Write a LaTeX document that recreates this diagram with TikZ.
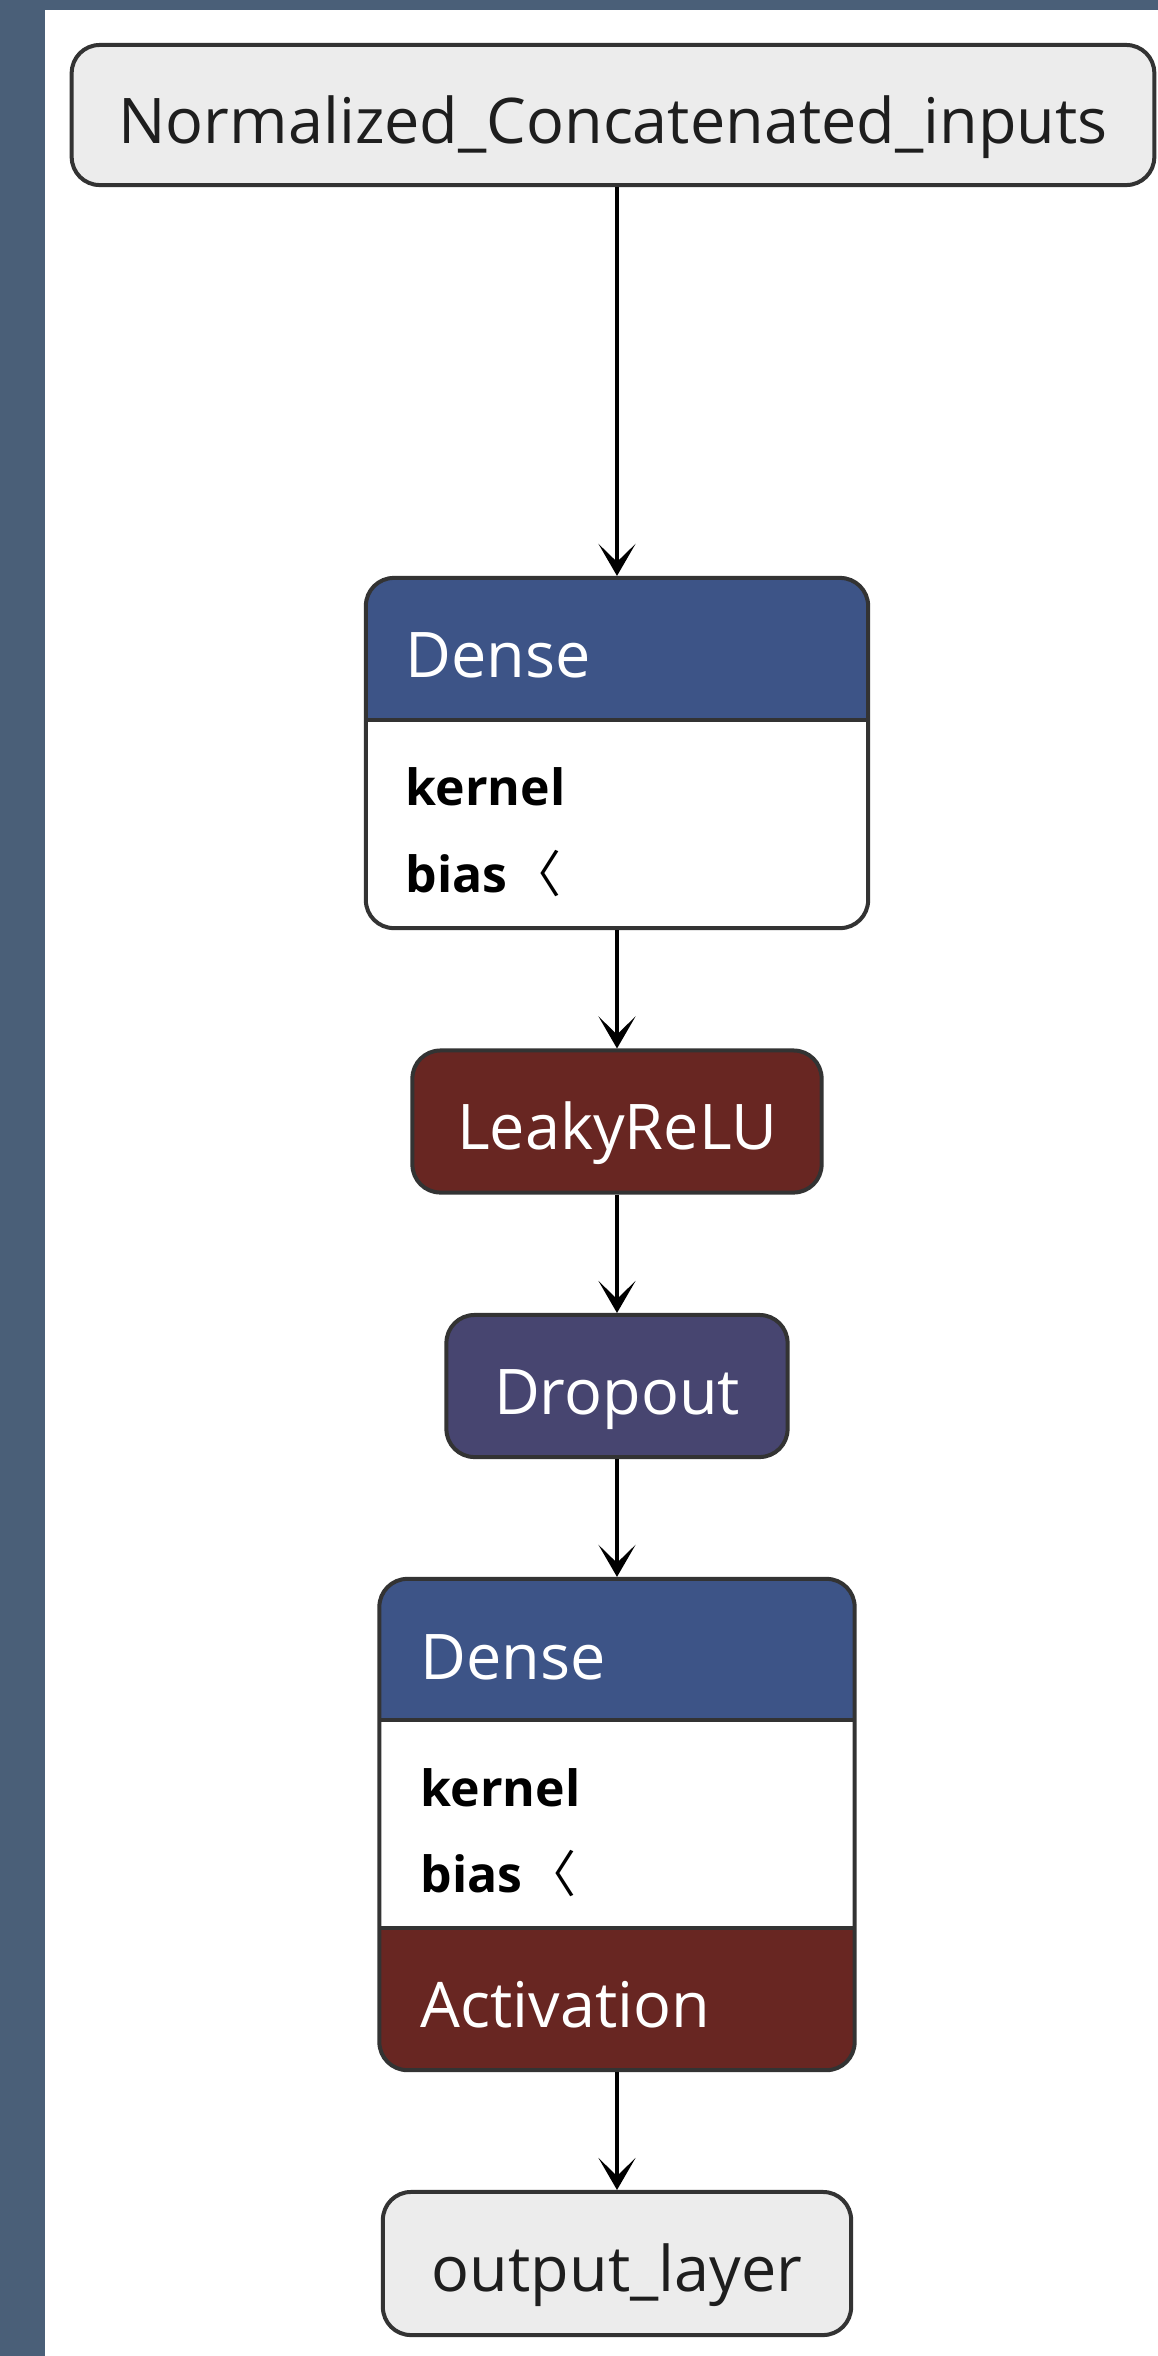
\documentclass[tikz,border=0pt]{standalone}
\usepackage{fontspec}
\setmainfont{Open Sans}
\newfontfamily\cjk{Noto Sans CJK SC}
\usetikzlibrary{arrows.meta}

\definecolor{slate}{RGB}{74,95,120}
\definecolor{edgegray}{RGB}{51,51,51}
\definecolor{plaingray}{RGB}{236,236,236}
\definecolor{densehead}{RGB}{61,84,135}
\definecolor{actred}{RGB}{104,38,34}
\definecolor{dropblue}{RGB}{71,69,112}
\definecolor{inktext}{RGB}{30,30,30}

\newcommand\bigtxt{\fontsize{17.9pt}{21pt}\selectfont}
\newcommand\paramfont{\fontsize{14.2pt}{17pt}\selectfont\bfseries}

\tikzset{
        layer/.style={draw=edgegray, line width=0.04cm, rounded corners=0.28cm, inner sep=0pt,
          minimum height=1.42cm, text height=0.56cm, text depth=0cm, font=\bigtxt},
        plain/.style={layer, fill=plaingray, text=inktext},
        leaky/.style={layer, fill=actred, text=white},
        drop/.style={layer, fill=dropblue, text=white},
        block/.style 2 args={layer, fill=white, path picture={
            \fill[densehead, sharp corners] (path picture bounding box.north west) rectangle ([yshift=-#1]path picture bounding box.north east);
            \fill[actred, sharp corners] (path picture bounding box.south west) rectangle ([yshift=#2]path picture bounding box.south east);
            \draw[edgegray, line width=0.04cm] ([yshift=-#1]path picture bounding box.north west) -- ([yshift=-#1]path picture bounding box.north east);
            \draw[edgegray, line width=0.04cm] ([yshift=#2]path picture bounding box.south west) -- ([yshift=#2]path picture bounding box.south east);}},
        headtxt/.style={anchor=base west, inner sep=0pt, font=\bigtxt, text=white},
        paramtxt/.style={anchor=base west, inner sep=0pt, font=\paramfont, text=black},
        flow/.style={-{Stealth[length=0.32cm, width=0.37cm, inset=0.18cm]}, line width=0.04cm, draw=black}
          }

\begin{document}
\begin{tikzpicture}[x=0.01cm, y=-0.01cm]
      \useasboundingbox (0,0) rectangle (1158,2356);
      \fill[slate] (0,0) rectangle (1158,2356);
      \fill[white] (45,10) rectangle (1158,2356);

      \node[plain, minimum width=10.82cm, minimum height=1.40cm] (inputs) at (613,115) {Normalized\_Concatenated\_inputs};

      \node[block={1.42cm}{0cm}, minimum width=5.02cm, minimum height=3.50cm] (dense1) at (617,753) {};
      \node[headtxt] (dense1name) at (405,677) {Dense};
      \node[paramtxt] (dense1kernel) at (405,805) {kernel};
      \node[paramtxt] (dense1bias) at (405,892) {bias\hspace{1pt}{\cjk\mdseries 〈}};

      \node[leaky, minimum width=4.09cm] (leaky) at (617,1121.5) {LeakyReLU};
      \node[drop, minimum width=3.41cm] (dropout) at (617,1386) {Dropout};

      \node[block={1.41cm}{1.42cm}, minimum width=4.75cm, minimum height=4.91cm] (dense2) at (617,1824.5) {};
      \node[headtxt] (dense2name) at (420,1679) {Dense};
      \node[paramtxt] (dense2kernel) at (420,1806) {kernel};
      \node[paramtxt] (dense2bias) at (420,1892) {bias\hspace{1pt}{\cjk\mdseries 〈}};
      \node[headtxt] (dense2act) at (420,2027) {Activation};

      \node[plain, minimum width=4.68cm, minimum height=1.43cm] (output) at (617,2263.5) {output\_layer};

      \draw[flow] (inputs.south -| dense1.north) -- (dense1.north);
      \draw[flow] (dense1.south) -- (leaky.north);
      \draw[flow] (leaky.south) -- (dropout.north);
      \draw[flow] (dropout.south) -- (dense2.north);
      \draw[flow] (dense2.south) -- (output.north);
    \end{tikzpicture}
\end{document}
